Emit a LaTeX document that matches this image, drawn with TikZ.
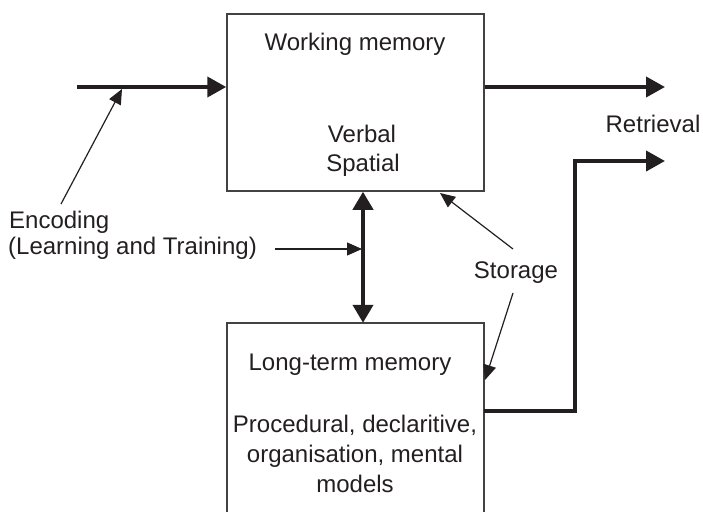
\documentclass[tikz,border=0pt]{standalone}
\usepackage{fontspec}
\setmainfont{Liberation Sans}
\usetikzlibrary{arrows.meta}
\definecolor{ink}{HTML}{231F20}
\tikzset{
  x=1pt, y=-1pt,
  every node/.style={font=\fontsize{24}{30}\selectfont, text=ink, inner sep=0pt},
  boxline/.style={draw=ink!85, line width=1.5pt},
  thickarrow/.style={draw=ink, line width=4pt, -{Triangle[length=19pt,width=20pt]}},
  thickline/.style={draw=ink, line width=4pt},
  dblarrow/.style={draw=ink, line width=4pt, {Triangle[length=18pt,width=20pt]}-{Triangle[length=18pt,width=20pt]}},
  pointer/.style={draw=ink, line width=1.2pt, -{Triangle[length=15pt,width=13pt]}},
}
\begin{document}
\begin{tikzpicture}
\useasboundingbox (0,0) rectangle (703,511);
% boxes
\node[boxline, minimum width=257pt, minimum height=177pt] (wm) at (355.5,102.5) {};
\node[minimum width=257pt, minimum height=200pt] (ltm) at (355.5,423) {};
\draw[boxline, line cap=butt] (ltm.south west) -- (ltm.north west) -- (ltm.north east) -- (ltm.south east);
% texts in boxes
\node[anchor=base] (wmt) at (355,50) {Working memory};
\node[anchor=base] (verb) at (362,142) {Verbal};
\node[anchor=base] (spat) at (363,171) {Spatial};
\node[anchor=base] (ltmt) at (350,370) {Long-term memory};
\node[anchor=base] (proc) at (355,432) {Procedural, declaritive,};
\node[anchor=base] (orga) at (355,462) {organisation, mental};
\node[anchor=base] (mode) at (355,492) {models};
% labels
\node[anchor=base west] (enc1) at (9,228) {Encoding};
\node[anchor=base west] (enc2) at (8,254) {(Learning and Training)};
\node[anchor=base] (stor) at (516,278) {Storage};
\node[anchor=base] (retr) at (653,132) {Retrieval};
% coordinates
\coordinate (in) at (77,87);
\coordinate (out) at (665,87);
\coordinate (dbl) at (363,0);
\coordinate (rby) at (0,411);
\coordinate (rc) at (575,161);
\coordinate (rend) at (665,161);
\coordinate (encs) at (61,204);
\coordinate (enct) at (122,89);
\coordinate (ehs) at (275,249);
\coordinate (eht) at (362,249);
\coordinate (s1) at (513,249);
\coordinate (t1) at (440,193);
\coordinate (s2) at (513,293);
\coordinate (t2) at (485,380);
% thick connectors
\draw[thickarrow] (in) -- (in -| wm.west);
\draw[thickarrow] (wm.east |- out) -- (out);
\draw[dblarrow] (wm.south -| dbl) -- (ltm.north -| dbl);
\draw[thickarrow, line join=miter] (ltm.east |- rby) -| (rc) -- (rend);
% pointers
\draw[pointer] (encs) -- (enct);
\draw[pointer] (ehs) -- (eht);
\draw[pointer] (s1) -- (t1);
\draw[pointer] (s2) -- (t2);
\end{tikzpicture}
\end{document}
